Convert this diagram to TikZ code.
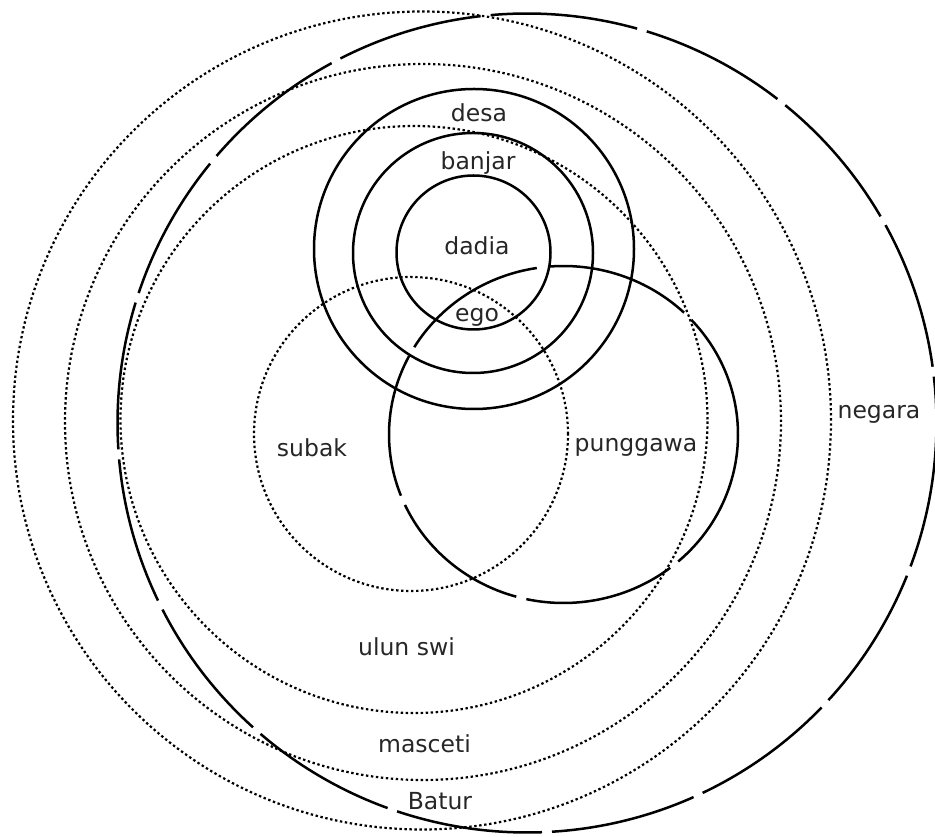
\documentclass[tikz,border=0pt]{standalone}
\usepackage{fontspec}
\setmainfont{DejaVu Sans}
\begin{document}
\begin{tikzpicture}[x=1pt,y=1pt,
  solidline/.style={line width=2.5pt,black},
  dotline/.style={line width=2.2pt,black,dash pattern=on 2.4pt off 2.6pt},
  lab/.style={inner sep=0pt,anchor=base,text=black!85,font=\fontsize{23.5}{28}\selectfont}]
\useasboundingbox (0,0) rectangle (935,836);
% dotted circles
\draw[dotline] (422,415.5) circle[radius=409];   % Batur
\draw[dotline] (423,414) circle[radius=358];     % masceti
\draw[dotline] (414,416.5) circle[radius=293.5]; % ulun swi
\draw[dotline] (411,402) circle[radius=157];     % subak
% solid circles
\draw[solidline] (474,587) circle[radius=160];   % desa
\draw[solidline] (473,583) circle[radius=120];   % banjar
\draw[solidline] (473.5,583.5) circle[radius=77];% dadia
% negara (broken circle)
\foreach \a/\b in {-175.6/-153.6,-153.6/-131.3,-131.3/-109.2,-109.2/-87.2,-87.2/-65.3,-65.3/-43.3,-43.3/-21.2,-21.2/7.2,7.2/29.6,29.6/51.6,51.6/73.7,73.7/95.8,95.8/117.8,117.8/140,140/162.2,162.2/184.4}{
  \pgfmathsetmacro\sa{\a+0.7}
  \pgfmathsetmacro\ea{\b-0.7}
  \draw[solidline] ([shift={(\sa:409.5)}]527,413) arc[start angle=\sa,end angle=\ea,radius=409.5];
}
% punggawa (broken ellipse)
\foreach \sa/\ea in {46.3/94.4,98.8/148.8,152.2/201.3,204.7/254.3,257.7/307.7,311.1/402.9}{
  \draw[solidline] ([shift={({174.5*cos(\sa)},{168.5*sin(\sa)})}]563.5,401.5) arc[start angle=\sa,end angle=\ea,x radius=174.5,y radius=168.5];
}
% labels
\node[lab] (desa) at (479,714) {desa};
\node[lab] (banjar) at (478,666) {banjar};
\node[lab] (dadia) at (477,581) {dadia};
\node[lab] (ego) at (477,514) {ego};
\node[lab] (subak) at (312,379) {subak};
\node[lab] (punggawa) at (636,384) {punggawa};
\node[lab] (negara) at (879,417) {negara};
\node[lab] (ulunswi) at (406.5,180) {ulun swi};
\node[lab] (masceti) at (424.5,83) {masceti};
\node[lab] (batur) at (440,27) {Batur};
\end{tikzpicture}
\end{document}
